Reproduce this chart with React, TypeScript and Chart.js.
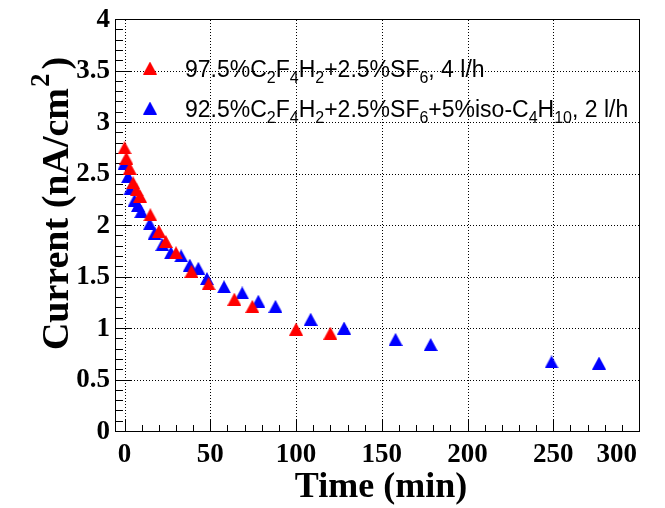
import React, { useEffect, useRef } from 'react';
import { Chart, registerables } from 'chart.js';

Chart.register(...registerables);

// Current density vs. time for the two gas mixtures
const timeRed = [0, 1, 3, 5, 7, 9, 15, 20, 24, 30, 39, 49, 64, 74.5, 100, 120];
const currentRed = [2.75, 2.65, 2.55, 2.41, 2.34, 2.28, 2.1, 1.94, 1.84, 1.73, 1.55, 1.43, 1.28, 1.21, 0.99, 0.95];

const timeBlue = [0, 2, 3.3, 5.8, 7.8, 9.7, 14.6, 17.5, 22, 27, 33, 38, 43, 48, 58, 68.6, 78, 88, 108.5, 128, 158, 178.5, 249, 276.7];
const currentBlue = [2.6, 2.47, 2.35, 2.24, 2.19, 2.13, 2.01, 1.92, 1.81, 1.73, 1.7, 1.61, 1.58, 1.48, 1.4, 1.34, 1.26, 1.21, 1.085, 1.0, 0.89, 0.84, 0.67, 0.66];

const xMajorTicks = [0, 50, 100, 150, 200, 250, 300];
const xTickLabels = ['0', '50', '100', '150', '200', '250', '300'];
const yMajorTicks = [0, 0.5, 1, 1.5, 2, 2.5, 3, 3.5, 4];
const yTickLabels = ['0', '0.5', '1', '1.5', '2', '2.5', '3', '3.5', '4'];

type Part = { t: string; sub?: boolean };
const legendRed: Part[] = [
  { t: '97.5%C' }, { t: '2', sub: true }, { t: 'F' }, { t: '4', sub: true }, { t: 'H' }, { t: '2', sub: true },
  { t: '+2.5%SF' }, { t: '6', sub: true }, { t: ', 4 l/h' },
];
const legendBlue: Part[] = [
  { t: '92.5%C' }, { t: '2', sub: true }, { t: 'F' }, { t: '4', sub: true }, { t: 'H' }, { t: '2', sub: true },
  { t: '+2.5%SF' }, { t: '6', sub: true }, { t: '+5%iso-C' }, { t: '4', sub: true }, { t: 'H' }, { t: '10', sub: true },
  { t: ', 2 l/h' },
];

const RED = '#ff0000';
const BLUE = '#0000ff';
const SERIF = '"Liberation Serif", "DejaVu Serif", serif';
const SANS = '"Liberation Sans", Arial, sans-serif';

function makeTriangle(color: string, w: number, h: number): HTMLCanvasElement {
  const c = document.createElement('canvas');
  c.width = w;
  c.height = h;
  const g = c.getContext('2d')!;
  g.fillStyle = color;
  g.beginPath();
  g.moveTo(w / 2, 0);
  g.lineTo(w, h);
  g.lineTo(0, h);
  g.closePath();
  g.fill();
  return c;
}

function drawRich(ctx: CanvasRenderingContext2D, parts: Part[], x: number, y: number, size: number) {
  let cx = x;
  for (const p of parts) {
    if (p.sub) {
      ctx.font = `${Math.round(size * 0.7)}px ${SANS}`;
      ctx.fillText(p.t, cx, y + size * 0.25);
    } else {
      ctx.font = `${size}px ${SANS}`;
      ctx.fillText(p.t, cx, y);
    }
    cx += ctx.measureText(p.t).width;
  }
}

export default function App() {
  const canvasRef = useRef<HTMLCanvasElement | null>(null);

  useEffect(() => {
    const canvas = canvasRef.current;
    if (!canvas) return;
    const triRed = makeTriangle(RED, 14, 13);
    const triBlue = makeTriangle(BLUE, 14, 13);

    const framePlugin = {
      id: 'frameAndTicks',
      beforeDatasetsDraw(chart: any) {
        const { ctx, chartArea: a, scales } = chart;
        const xs = scales.x;
        const ys = scales.y;
        ctx.save();
        const left = Math.round(a.left);
        const right = Math.round(a.right);
        const top = Math.round(a.top);
        const bottom = Math.round(a.bottom);

        // dotted grid at the major ticks
        ctx.strokeStyle = '#000';
        ctx.lineWidth = 1;
        ctx.setLineDash([1, 2]);
        ctx.beginPath();
        xMajorTicks.forEach((v) => {
          const px = Math.round(xs.getPixelForValue(v)) + 0.5;
          ctx.moveTo(px, top + 1);
          ctx.lineTo(px, bottom);
        });
        yMajorTicks.forEach((v) => {
          const py = Math.round(ys.getPixelForValue(v)) + 0.5;
          ctx.moveTo(left + 1, py);
          ctx.lineTo(right, py);
        });
        ctx.stroke();
        ctx.setLineDash([]);

        ctx.beginPath();
        // ticks on the bottom axis, pointing inwards
        for (let v = 0; v <= 300; v += 10) {
          const px = Math.round(xs.getPixelForValue(v)) + 0.5;
          const len = v % 50 === 0 ? 12 : 6;
          ctx.moveTo(px, bottom);
          ctx.lineTo(px, bottom - len);
        }
        // ticks on the left axis, pointing inwards
        for (let i = 0; i <= 40; i++) {
          const py = Math.round(ys.getPixelForValue(i / 10)) + 0.5;
          const len = i % 5 === 0 ? 16 : 8;
          ctx.moveTo(left, py);
          ctx.lineTo(left + len, py);
        }
        ctx.stroke();
        ctx.strokeRect(left + 0.5, top + 0.5, right - left, bottom - top);
        ctx.restore();
      },
      afterDraw(chart: any) {
        const { ctx, chartArea: a, scales } = chart;
        const xs = scales.x;
        const ys = scales.y;
        ctx.save();
        ctx.fillStyle = '#000';
        // tick labels
        ctx.font = `bold 27px ${SERIF}`;
        ctx.textAlign = 'right';
        ctx.textBaseline = 'middle';
        yMajorTicks.forEach((v, i) => {
          ctx.fillText(yTickLabels[i], a.left - 5, ys.getPixelForValue(v) + 1);
        });
        ctx.textBaseline = 'alphabetic';
        xMajorTicks.forEach((v, i) => {
          const label = xTickLabels[i];
          let px = xs.getPixelForValue(v);
          const w = ctx.measureText(label).width;
          ctx.textAlign = 'center';
          if (px + w / 2 > a.right) {
            ctx.textAlign = 'right';
            px = a.right - 2;
          }
          ctx.fillText(label, px, a.bottom + 31);
        });

        // axis titles
        ctx.font = `bold 36px ${SERIF}`;
        ctx.textAlign = 'center';
        ctx.fillText('Time (min)', 381, 497);

        const main = 'Current (nA/cm';
        const sup = '2';
        const close = ')';
        const big = `bold 38px ${SERIF}`;
        const small = `bold 27px ${SERIF}`;
        ctx.font = big;
        const wMain = ctx.measureText(main).width;
        const wClose = ctx.measureText(close).width;
        ctx.font = small;
        const wSup = ctx.measureText(sup).width + 4;
        const total = wMain + wSup + wClose;
        ctx.translate(68, 204);
        ctx.rotate(-Math.PI / 2);
        ctx.textAlign = 'left';
        let cx = -total / 2;
        ctx.font = big;
        ctx.fillText(main, cx, 0);
        cx += wMain + 1;
        ctx.font = small;
        ctx.fillText(sup, cx, -19);
        cx += wSup;
        ctx.font = big;
        ctx.fillText(close, cx, 0);
        ctx.setTransform(1, 0, 0, 1, 0, 0);

        // legend
        ctx.fillStyle = '#000';
        ctx.textAlign = 'left';
        ctx.drawImage(triRed, 150 - 7, 68 - 6.5);
        drawRich(ctx, legendRed, 185, 77, 23);
        ctx.drawImage(triBlue, 150 - 7, 108 - 6.5);
        drawRich(ctx, legendBlue, 185, 117, 23);
        ctx.restore();
      },
    };

    const chart = new Chart(canvas, {
      type: 'scatter',
      data: {
        datasets: [
          {
            label: '97.5%C2F4H2+2.5%SF6, 4 l/h',
            data: timeRed.map((t, i) => ({ x: t, y: currentRed[i] })),
            pointStyle: triRed,
            backgroundColor: RED,
            borderWidth: 0,
          },
          {
            label: '92.5%C2F4H2+2.5%SF6+5%iso-C4H10, 2 l/h',
            data: timeBlue.map((t, i) => ({ x: t, y: currentBlue[i] })),
            pointStyle: triBlue,
            backgroundColor: BLUE,
            borderWidth: 0,
          },
        ],
      },
      options: {
        animation: false,
        responsive: false,
        maintainAspectRatio: false,
        layout: { padding: { top: 19, right: 26, left: 0, bottom: 0 } },
        plugins: {
          legend: { display: false },
          tooltip: { enabled: false },
        },
        scales: {
          x: {
            type: 'linear',
            min: -5.6,
            max: 300,
            afterBuildTicks: (s: any) => {
              s.ticks = xMajorTicks.map((v) => ({ value: v }));
            },
            afterFit: (s: any) => {
              s.height = 77;
            },
            ticks: { display: false },
            grid: { display: false },
            border: { display: false },
          },
          y: {
            type: 'linear',
            min: 0,
            max: 4,
            afterBuildTicks: (s: any) => {
              s.ticks = yMajorTicks.map((v) => ({ value: v }));
            },
            afterFit: (s: any) => {
              s.width = 115;
            },
            ticks: { display: false },
            grid: { display: false },
            border: { display: false },
          },
        },
      },
      plugins: [framePlugin],
    });

    return () => chart.destroy();
  }, []);

  return (
    <div style={{ position: 'fixed', left: 0, top: 0, width: 665, height: 508, background: '#fff' }}>
      <canvas ref={canvasRef} width={665} height={508} style={{ width: 665, height: 508, display: 'block' }} />
    </div>
  );
}
